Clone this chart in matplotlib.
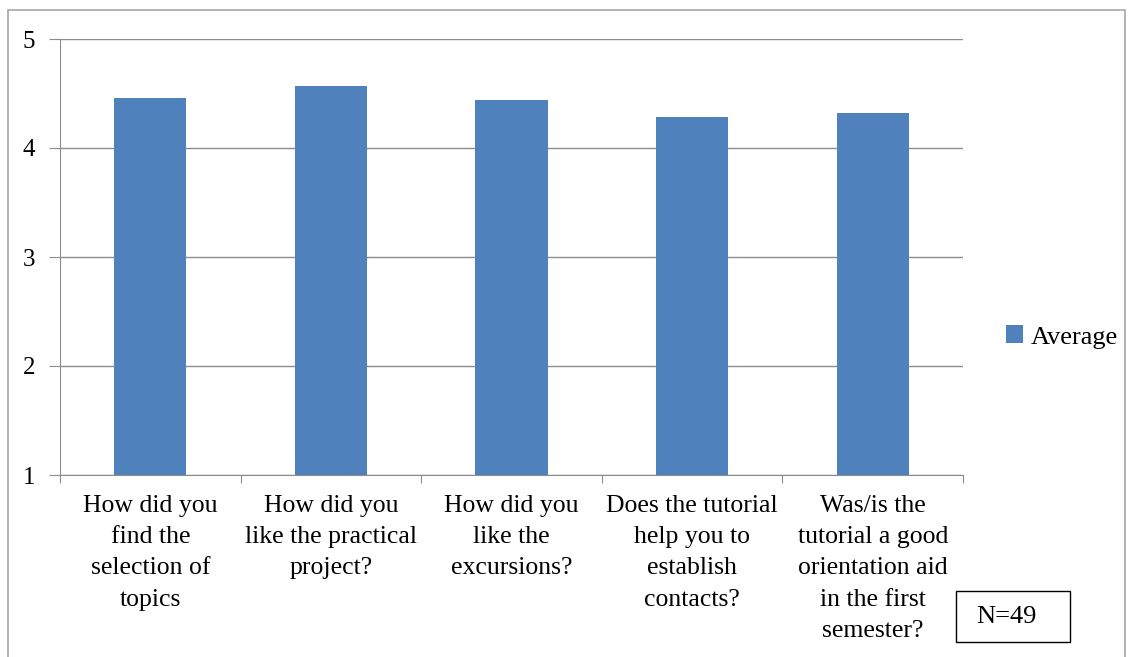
import numpy as np
import matplotlib
matplotlib.use("Agg")
import matplotlib.pyplot as plt
from matplotlib.patches import Rectangle

plt.rcParams['font.family'] = ['Liberation Serif', 'DejaVu Serif']

categories = ["How did you\nfind the\nselection of\ntopics",
              "How did you\nlike the practical\nproject?",
              "How did you\nlike the\nexcursions?",
              "Does the tutorial\nhelp you to\nestablish\ncontacts?",
              "Was/is the\ntutorial a good\norientation aid\nin the first\nsemester?"]
average = [4.46, 4.57, 4.44, 4.28, 4.32]
yticks = [1, 2, 3, 4, 5]

bar_color = "#4f81bd"
grid_color = "#8c8c8c"

fig = plt.figure(figsize=(11.35, 6.57), dpi=100)
# axes in pixels: left 60, right 963, top 39, bottom 475
W, H = 1135, 657
ax = fig.add_axes([60 / W, 1 - 475 / H, (963 - 60) / W, (475 - 39) / H])

x = np.arange(len(categories))
ax.bar(x, average, width=0.4, bottom=0, color=bar_color, label="Average", zorder=3)
ax.set_xlim(-0.5, len(categories) - 0.5)
ax.set_ylim(1, 5)
ax.set_yticks(yticks)
ax.set_yticklabels([str(v) for v in yticks], fontsize=18)
ax.yaxis.grid(True, color=grid_color, linewidth=1, zorder=0)
ax.tick_params(axis='y', length=8, color=grid_color, pad=10)

ax.set_xticks(np.arange(-0.5, len(categories) + 0.5, 1))
ax.set_xticklabels([])
ax.tick_params(axis='x', length=6, color=grid_color)
for i, lab in enumerate(categories):
    ax.text(i, -0.045, lab, ha='center', va='top', fontsize=18.5,
            transform=ax.get_xaxis_transform(), linespacing=1.55)

for s in ['top', 'right']:
    ax.spines[s].set_visible(False)
for s in ['left', 'bottom']:
    ax.spines[s].set_color(grid_color)

leg = fig.legend(loc='center left', bbox_to_anchor=(1006 / W, 1 - 337 / H), frameon=False,
                 fontsize=19, handlelength=0.65, handleheight=0.65, handletextpad=0.3,
                 borderpad=0, borderaxespad=0)

# N=49 box
fig.text(1006 / W, 1 - 617 / H, "N=49", ha='center', va='center', fontsize=19)
fig.patches.append(Rectangle((956 / W, 1 - 642 / H), 114 / W, 51 / H, fill=False,
                             edgecolor='black', linewidth=1, transform=fig.transFigure, figure=fig))

# outer chart border
fig.patches.append(Rectangle((8 / W, -0.01), 1117 / W, 1 - 10 / H + 0.01, fill=False,
                             edgecolor='#a6a6a6', linewidth=1.2, transform=fig.transFigure, figure=fig))

fig.savefig("out.png", dpi=100)
